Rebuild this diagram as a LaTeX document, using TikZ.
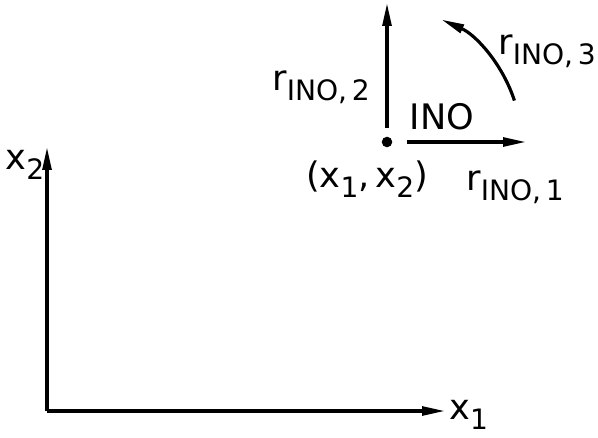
\documentclass[tikz,border=0pt]{standalone}
\usepackage{fontspec}
\setmainfont{DejaVu Sans}
\usetikzlibrary{arrows.meta,positioning}

\newcommand{\rino}[1]{r\raisebox{-0.5ex}{\fontsize{16}{18}\selectfont INO,\,#1}}
\newcommand{\xsub}[1]{x\raisebox{-0.5ex}{\fontsize{16}{18}\selectfont #1}}

\begin{document}
\begin{tikzpicture}[x=0.02cm,y=0.02cm,
  arr/.style={line width=1.8pt,-{Triangle[length=13pt,width=5pt]}},
  lbl/.style={font=\fontsize{20}{24}\selectfont,inner sep=0pt}]
  \useasboundingbox (0,0) rectangle (598,437);
  % coordinate axes
  \coordinate (O) at (47,26);
  \coordinate (x1end) at (445,26);
  \coordinate (x2end) at (47,290);
  \draw[arr] (O) -- (x1end);
  \draw[arr] (O) -- (x2end);
  \node[lbl,anchor=west] (x1lbl) at (449,22) {\xsub{1}};
  \node[lbl] (x2lbl) at (25,272) {\xsub{2}};
  % the point and its vectors
  \node[circle,fill,inner sep=0pt,minimum size=6pt] (P) at (387,295) {};
  \coordinate (r1end) at (526,295);
  \coordinate (r2end) at (387,434);
  \draw[arr,shorten <=8pt] (P) -- (r1end);
  \draw[arr,shorten <=5pt] (P) -- (r2end);
  \draw[arr] (P.center) ++(18:2.68cm) arc[start angle=18,end angle=66,radius=2.68cm];
  % labels
  \node[lbl] (Plbl) at (367,258) {(\xsub{1},\,\xsub{2})};
  \node[lbl] (ino) at (442,320) {INO};
  \node[lbl] (r1lbl) at (515,250) {\rino{1}};
  \node[lbl] (r2lbl) at (321,350) {\rino{2}};
  \node[lbl] (r3lbl) at (547,386) {\rino{3}};
\end{tikzpicture}
\end{document}
